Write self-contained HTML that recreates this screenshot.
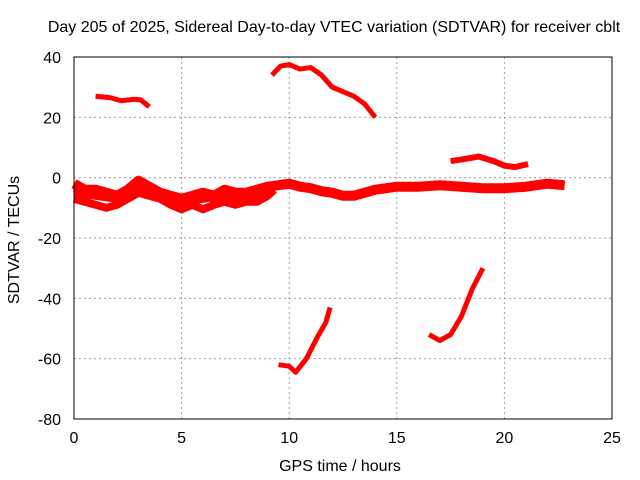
<!DOCTYPE html>
<html><head><meta charset="utf-8"><style>
body{margin:0;background:#fff}
svg{display:block;font-family:"Liberation Sans",sans-serif;font-size:16px}
</style></head><body>
<svg id="c" width="640" height="480">
<text x="334" y="32" text-anchor="middle">Day 205 of 2025, Sidereal Day-to-day VTEC variation (SDTVAR) for receiver cblt</text>
<text x="340" y="471" text-anchor="middle">GPS time / hours</text>
<text transform="translate(19,240) rotate(-90)" text-anchor="middle">SDTVAR / TECUs</text>
<g id="grid"></g><g id="series"></g>
<rect x="74" y="57" width="538" height="362" fill="none" stroke="#000"/>
</svg>
<script>
const xTicks=[0,5,10,15,20,25];
const yTicks=[40,20,0,-20,-40,-60,-80];
const s1x=[1.0,1.7,2.2,2.8,3.1,3.5], s1y=[27,26.5,25.5,26,25.8,23.5];
const s2x=[9.2,9.6,10.0,10.5,11.0,11.5,12.0,12.5,13.0,13.5,14.0], s2y=[34,37,37.5,36,36.5,34,30,28.5,27,24.5,20];
const s3x=[9.5,10.0,10.3,10.8,11.3,11.7,11.9], s3y=[-62,-62.5,-64.5,-60,-53,-48,-43];
const s4x=[16.5,17.0,17.5,18.0,18.5,19.0], s4y=[-52,-54,-52,-46,-37,-30];
const s5x=[17.5,18.0,18.8,19.5,20.0,20.5,21.1], s5y=[5.5,6,7,5.5,4,3.5,4.5];
const s6x=[0,0.5,1,1.5,2,2.5,3,3.5,4,4.5,5,5.5,6,6.5,7,7.5,8,8.5,9,9.5,10,10.5,11,11.5,12,12.5,13,13.5,14,15,16,17,18,19,20,21,22,22.8];
const s6y=[-2,-4,-4,-5,-6,-4,-1,-3,-5,-6,-7,-6,-5,-6,-4,-5,-5,-4,-3,-2.5,-2,-3,-3.5,-4.5,-5,-6,-6,-5,-4,-3,-3,-2.5,-3,-3.5,-3.5,-3,-2,-2.5];
const s7x=[0,0.5,1,1.5,2,2.5,3,4,4.5,5,5.5,6,6.5,7,7.5,8,8.5,9,9.3];
const s7y=[-7,-8,-9,-10,-9,-7,-5,-7,-9,-10.5,-9,-10.5,-9,-8,-9,-8,-8,-6,-4];
const s8x=[0,1,2,3,4,5,6,7,8,9];
const s8y=[-5,-6,-7,-4,-6,-8,-7,-6,-7,-5];
const X=v=>74+v*538/25, Y=v=>57+(40-v)*362/120;
const NS='http://www.w3.org/2000/svg';
const g=document.getElementById('grid'), sg=document.getElementById('series');
xTicks.forEach(t=>{
 const x=X(t);
 if(t>0&&t<25){const l=document.createElementNS(NS,'line');
 
 
 l.setAttribute('x1',x);l.setAttribute('x2',x);l.setAttribute('y1',57);l.setAttribute('y2',419);l.setAttribute('stroke','#a0a0a0');l.setAttribute('stroke-dasharray','2,3');g.appendChild(l);}
 const tx=document.createElementNS(NS,'text');
 
 
 tx.setAttribute('x',x);tx.setAttribute('y',443);tx.setAttribute('text-anchor','middle');tx.textContent=t;g.appendChild(tx);
});
yTicks.forEach(t=>{
 const y=Y(t);
 if(t<40&&t>-80){const l=document.createElementNS(NS,'line');
 
 
 l.setAttribute('x1',74);l.setAttribute('x2',612);l.setAttribute('y1',y);l.setAttribute('y2',y);l.setAttribute('stroke','#a0a0a0');l.setAttribute('stroke-dasharray','2,3');g.appendChild(l);}
 const tx=document.createElementNS(NS,'text');
 
 
 tx.setAttribute('x',61);tx.setAttribute('y',y+6);tx.setAttribute('text-anchor','end');tx.textContent=t;g.appendChild(tx);
});
[[s1x,s1y,5],[s2x,s2y,5],[s3x,s3y,5],[s4x,s4y,5],[s5x,s5y,6],[s6x,s6y,10],[s7x,s7y,8],[s8x,s8y,8]].forEach(([xs,ys,w])=>{
 const p=document.createElementNS(NS,'polyline');
 
 
 p.setAttribute('points',xs.map((x,i)=>X(x)+','+Y(ys[i])).join(' '));
 p.setAttribute('fill','none');p.setAttribute('stroke','#f00');p.setAttribute('stroke-width',w);p.setAttribute('stroke-linejoin','round');
 sg.appendChild(p);
});
</script>
</body></html>
